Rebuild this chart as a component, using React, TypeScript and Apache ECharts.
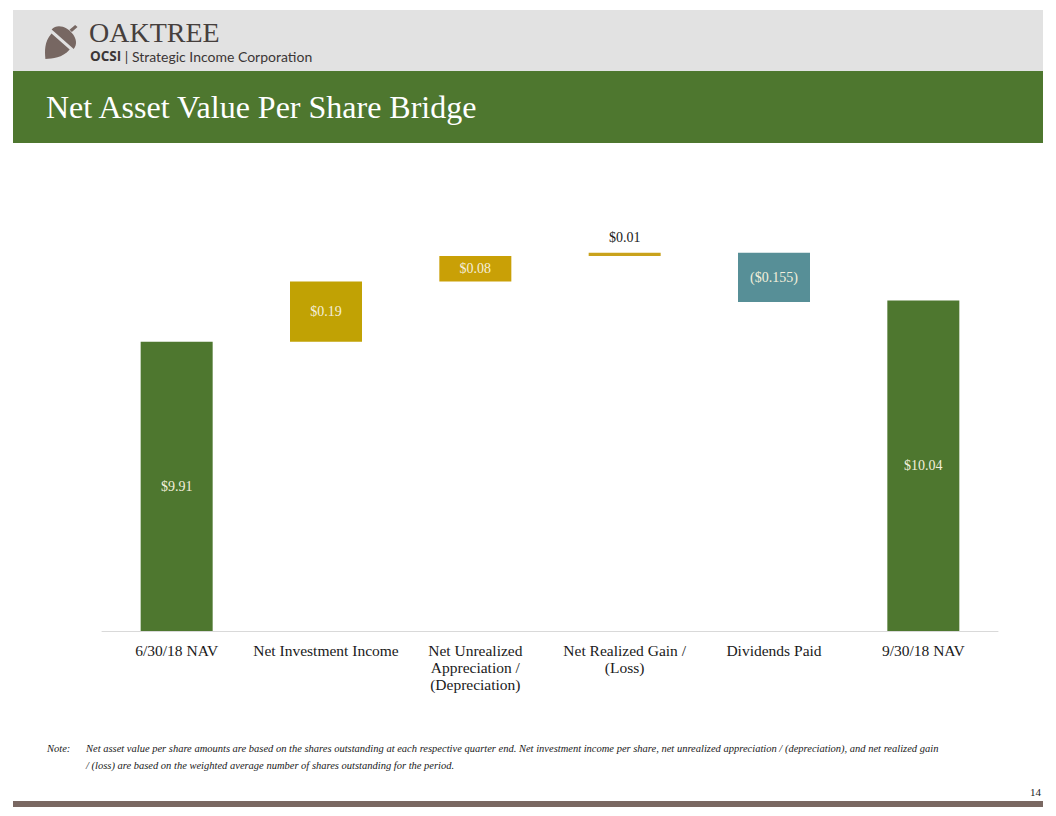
import React, { useEffect, useRef } from "react";
import * as echarts from "echarts";

const categories = [
  "6/30/18 NAV",
  "Net Investment Income",
  "Net Unrealized\nAppreciation /\n(Depreciation)",
  "Net Realized Gain /\n(Loss)",
  "Dividends Paid",
  "9/30/18 NAV",
];
const changes = [9.91, 0.19, 0.08, 0.01, -0.155, 10.04];
const kinds = ["total", "up", "up", "up", "down", "total"];
const valueLabels = ["$9.91", "$0.19", "$0.08", "$0.01", "($0.155)", "$10.04"];

const AXIS_MIN = 9;
const AXIS_MAX = 10.35;

const title = "Net Asset Value Per Share Bridge";
const noteLine1 =
  "Net asset value per share amounts are based on the shares outstanding at each respective quarter end. Net investment income per share, net unrealized appreciation / (depreciation), and net realized gain";
const noteLine2 = "/ (loss) are based on the weighted average number of shares outstanding for the period.";

const GREEN = "#4e772f";
const GOLD = "#c1a204";
const TEAL = "#578f97";
const SERIF = "'Liberation Serif', 'Times New Roman', serif";

const acornPath =
  "M -14 -1 C -14 -15 14 -15 14 -1 Z M -1 -12 L 0 -19 L 3 -19 L 2 -12 Z M -11.5 2 L 11.5 2 C 11.5 13 5 19 0 24 C -5 19 -11.5 13 -11.5 2 Z";

let registered = false;

export default function App() {
  const ref = useRef<HTMLDivElement>(null);
  useEffect(() => {
    if (!ref.current) return;
    if (!registered) {
      echarts.graphic.registerShape("logo", echarts.graphic.extendPath(acornPath, {}) as any);
      registered = true;
    }
    const chart = echarts.init(ref.current, null, { renderer: "svg" });

    const base: number[] = [];
    const heights: number[] = [];
    let cum = 0;
    changes.forEach((v, i) => {
      if (kinds[i] === "total") {
        base.push(AXIS_MIN);
        heights.push(v - AXIS_MIN);
        cum = v;
      } else if (v >= 0) {
        base.push(cum);
        heights.push(v);
        cum += v;
      } else {
        cum += v;
        base.push(cum);
        heights.push(-v);
      }
    });
    const colorFor = (k: string, i: number) =>
      k === "total" ? GREEN : k === "down" ? TEAL : i === 2 ? "#c9a006" : i === 3 ? "#c9a21c" : GOLD;

    chart.setOption({
      animation: false,
      grid: { left: 102, right: 58, top: 202, bottom: 185 },
      xAxis: {
        type: "category",
        data: categories,
        axisLine: { lineStyle: { color: "#d9d9d9", width: 1 } },
        axisTick: { show: false },
        axisLabel: {
          color: "#1a1a1a",
          fontFamily: SERIF,
          fontSize: 15.5,
          lineHeight: 17,
          margin: 11,
          interval: 0,
        },
      },
      yAxis: {
        type: "value",
        min: AXIS_MIN,
        max: AXIS_MAX,
        show: false,
        splitLine: { show: false },
      },
      series: [
        {
          type: "bar",
          stack: "w",
          data: base,
          barWidth: 72,
          itemStyle: { color: "transparent" },
          emphasis: { disabled: true },
          silent: true,
        },
        {
          type: "bar",
          stack: "w",
          barWidth: 72,
          data: heights.map((h, i) => ({
            value: h,
            itemStyle: { color: colorFor(kinds[i], i) },
            label:
              i === 3
                ? { position: "top", distance: 8, color: "#1a1a1a" }
                : { position: "inside", color: "#f4efdc" },
          })),
          label: {
            show: true,
            fontFamily: SERIF,
            fontSize: 14,
            formatter: (p: any) => valueLabels[p.dataIndex],
          },
        },
      ],
      graphic: [
        { type: "rect", shape: { x: 13, y: 10, width: 1030, height: 62 }, style: { fill: "#e2e2e2" } },
        { type: "rect", shape: { x: 13, y: 71, width: 1030, height: 72 }, style: { fill: "#4e772f" } },
        {
          type: "logo",
          x: 62,
          y: 40,
          rotation: -0.72,
          scaleX: 1.05,
          scaleY: 1.05,
          style: { fill: "#776762" },
        },
        {
          type: "text",
          x: 89,
          y: 32,
          style: {
            text: "OAKTREE",
            font: "28px 'Liberation Serif', serif",
            fill: "#463f3d",
            verticalAlign: "middle",
          },
        },
        {
          type: "text",
          x: 90,
          y: 56,
          style: {
            text: "{b|OCSI} | Strategic Income Corporation",
            rich: {
              b: { fontWeight: "bold", fontFamily: "'Open Sans', sans-serif", fontSize: 13.5, fill: "#3b3636" },
            },
            fontFamily: "Lato, sans-serif",
            fontSize: 14,
            fill: "#3b3636",
            verticalAlign: "middle",
          },
        },
        {
          type: "text",
          x: 46,
          y: 107,
          style: { text: title, font: "32px " + SERIF, fill: "#ffffff", verticalAlign: "middle" },
        },
        {
          type: "text",
          x: 47,
          y: 748,
          style: { text: "Note:", font: "italic 10.5px " + SERIF, fill: "#1a1a1a", verticalAlign: "middle" },
        },
        {
          type: "text",
          x: 86,
          y: 748,
          style: { text: noteLine1, font: "italic 10.5px " + SERIF, fill: "#1a1a1a", verticalAlign: "middle" },
        },
        {
          type: "text",
          x: 86,
          y: 765,
          style: { text: noteLine2, font: "italic 10.5px " + SERIF, fill: "#1a1a1a", verticalAlign: "middle" },
        },
        {
          type: "text",
          x: 1041,
          y: 792,
          style: { text: "14", font: "11px " + SERIF, fill: "#1a1a1a", align: "right", verticalAlign: "middle" },
        },
        { type: "rect", shape: { x: 13, y: 801, width: 1030, height: 6 }, style: { fill: "#7a6862" } },
      ],
    });
    return () => chart.dispose();
  }, []);
  return (
    <div
      ref={ref}
      style={{ position: "fixed", left: 0, top: 0, width: 1056, height: 816, background: "#ffffff" }}
    />
  );
}
